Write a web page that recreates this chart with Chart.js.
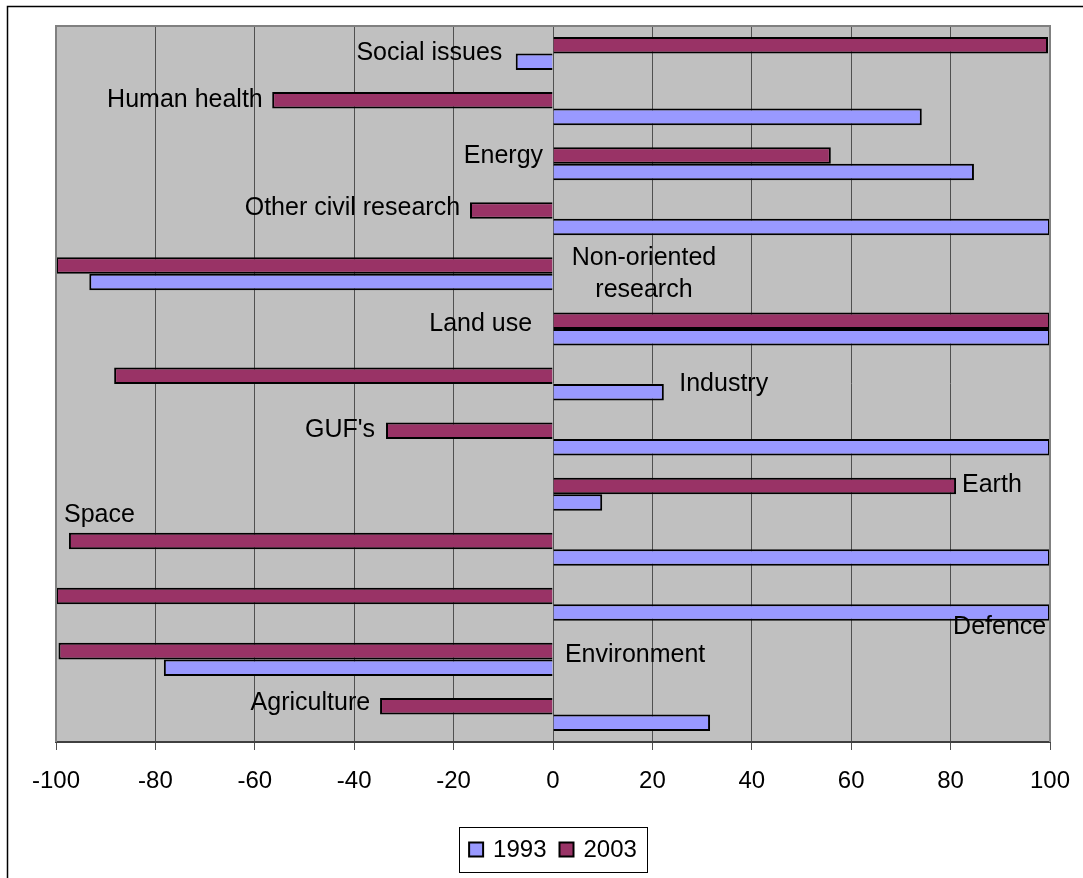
<!DOCTYPE html>
<html>
<head>
<meta charset="utf-8">
<script src="https://cdn.jsdelivr.net/npm/chart.js@4.4.1/dist/chart.umd.min.js"></script>
<style>
  html, body { margin: 0; padding: 0; background: #fff; overflow: hidden; }
  #wrap { width: 1083px; height: 878px; }
</style>
</head>
<body>
<div id="wrap"><canvas id="chart" width="1083" height="878"></canvas></div>
<script>
// data
const categories = ["Social issues", "Human health", "Energy", "Other civil research",
  "Non-oriented research", "Land use", "Industry", "GUF's", "Earth", "Space",
  "Defence", "Environment", "Agriculture"];
const values1993 = [-7.5, 74.2, 84.7, 100, -93.3, 100, 22.3, 100, 9.9, 100, 100, -78.3, 31.6];
const values2003 = [99.6, -56.5, 55.9, -16.7, -100, 100, -88.3, -33.6, 81.1, -97.4, -100, -99.5, -34.8];
const xTicks = [-100, -80, -60, -40, -20, 0, 20, 40, 60, 80, 100];

// where each category name sits (x in axis units, dy in px from the category centre)
const labelPlace = [
  { x: -10.2, align: "right", dy: 0 },
  { x: -58.4, align: "right", dy: -9 },
  { x: -2.0, align: "right", dy: -8 },
  { x: -18.7, align: "right", dy: -11 },
  { x: 18.3, align: "center", dy: 0, lines: ["Non-oriented", "research"] },
  { x: -4.2, align: "right", dy: -5 },
  { x: 25.4, align: "left", dy: 0 },
  { x: -35.8, align: "right", dy: -9 },
  { x: 82.3, align: "left", dy: -9 },
  { x: -98.4, align: "left", dy: -34 },
  { x: 80.5, align: "left", dy: 23 },
  { x: 2.4, align: "left", dy: -4 },
  { x: -36.8, align: "right", dy: -11 }
];

const FONT = '"Liberation Sans", Arial, sans-serif';
Chart.defaults.font.family = FONT;
Chart.defaults.font.size = 24;
Chart.defaults.color = "#000";

const C1993 = "#9999FF";
const C2003 = "#993366";

const frame = {
  id: "frame",
  beforeDraw(chart) {
    const { ctx, chartArea: a } = chart;
    ctx.save();
    ctx.fillStyle = "#fff";
    ctx.fillRect(0, 0, chart.width, chart.height);
    // outer chart border (only top/left visible)
    ctx.strokeStyle = "#000";
    ctx.lineWidth = 1.5;
    ctx.strokeRect(7.5, 6.5, 1400, 1400);
    ctx.fillStyle = "#C0C0C0";
    ctx.fillRect(a.left, a.top, a.right - a.left, a.bottom - a.top);
    ctx.restore();
  },
  afterDatasetsDraw(chart) {
    const { ctx, chartArea: a } = chart;
    const xs = chart.scales.x, ys = chart.scales.y;
    ctx.save();
    // plot area border
    ctx.strokeStyle = "#808080";
    ctx.lineWidth = 2;
    ctx.beginPath();
    ctx.moveTo(a.left, a.bottom);
    ctx.lineTo(a.left, a.top);
    ctx.lineTo(a.right, a.top);
    ctx.lineTo(a.right, a.bottom);
    ctx.stroke();

    // category names
    ctx.fillStyle = "#000";
    ctx.font = "25px " + FONT;
    ctx.textBaseline = "middle";
    categories.forEach((name, i) => {
      const p = labelPlace[i];
      const x = xs.getPixelForValue(p.x);
      const y = ys.getPixelForValue(i) + p.dy;
      ctx.textAlign = p.align;
      if (p.lines) {
        ctx.fillText(p.lines[0], x, y - 16);
        ctx.fillText(p.lines[1], x, y + 16);
      } else {
        ctx.fillText(name, x, y);
      }
    });

    // legend in a box under the axis
    const items = chart.data.datasets.slice().reverse();
    ctx.font = "24px " + FONT;
    ctx.textAlign = "left";
    const box = 14, gap = 10, sep = 13, padX = 10;
    let w = padX * 2;
    items.forEach((d, k) => {
      w += box + gap + ctx.measureText(d.label).width + (k ? sep : 0);
    });
    const cx = (a.left + a.right) / 2;
    const top = 827, h = 45;
    let x = cx - w / 2;
    ctx.strokeStyle = "#000";
    ctx.lineWidth = 1;
    ctx.strokeRect(Math.round(x) + 0.5, top + 0.5, Math.round(w), h);
    x += padX;
    const my = top + h / 2;
    items.forEach((d, k) => {
      if (k) x += sep;
      ctx.fillStyle = d.backgroundColor;
      ctx.fillRect(x, my - box / 2, box, box);
      ctx.strokeStyle = "#000";
      ctx.lineWidth = 2;
      ctx.strokeRect(x, my - box / 2, box, box);
      x += box + gap;
      ctx.fillStyle = "#000";
      ctx.fillText(d.label, x, my + 1);
      x += ctx.measureText(d.label).width;
    });
    ctx.restore();
  }
};

new Chart(document.getElementById("chart"), {
  type: "bar",
  data: {
    labels: categories,
    datasets: [
      { label: "2003", data: values2003, backgroundColor: C2003, borderColor: "#000", borderWidth: 2 },
      { label: "1993", data: values1993, backgroundColor: C1993, borderColor: "#000", borderWidth: 2 }
    ]
  },
  options: {
    indexAxis: "y",
    responsive: false,
    animation: false,
    devicePixelRatio: 1,
    layout: { padding: { left: 56, right: 33, top: 26, bottom: 0 } },
    categoryPercentage: 0.6,
    barPercentage: 1.0,
    plugins: {
      legend: { display: false },
      tooltip: { enabled: false }
    },
    scales: {
      x: {
        min: -100,
        max: 100,
        afterBuildTicks: s => { s.ticks = xTicks.map(v => ({ value: v })); },
        afterFit: s => { s.height = 136; s.paddingLeft = 0; s.paddingRight = 0; },
        grid: { color: "#505050", lineWidth: 1, tickLength: 8, drawTicks: true },
        border: { color: "#404040", width: 2 },
        ticks: { padding: 17, font: { size: 24 }, color: "#000", maxRotation: 0 }
      },
      y: {
        display: false
      }
    }
  },
  plugins: [frame]
});
</script>
</body>
</html>
